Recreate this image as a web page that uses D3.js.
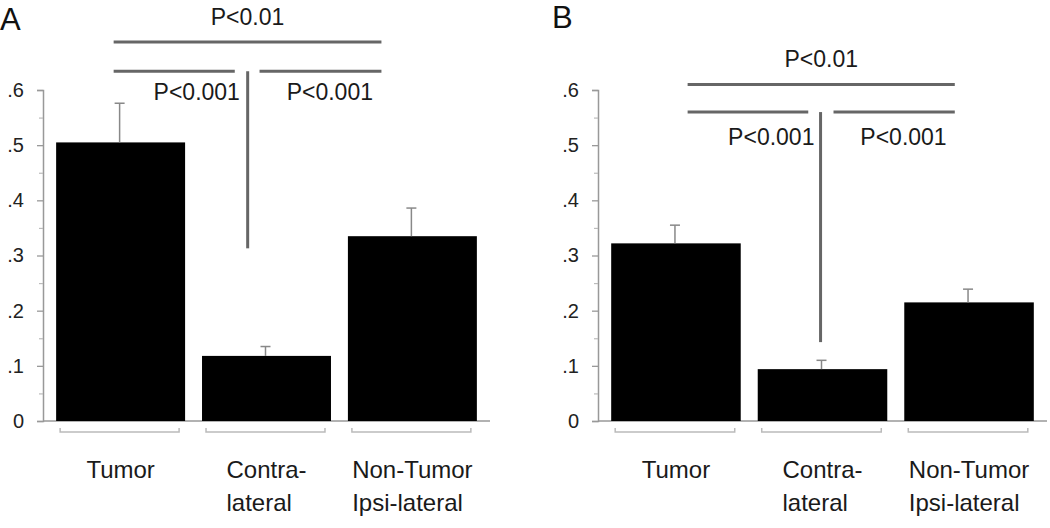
<!DOCTYPE html>
<html>
<head>
<meta charset="utf-8">
<script src="https://cdn.jsdelivr.net/npm/d3@7"></script>
<style>
  html, body { margin: 0; padding: 0; background: #fff; }
  svg { display: block; font-family: "Liberation Sans", Arial, sans-serif; }
</style>
</head>
<body>
<svg id="chart" width="1050" height="528"></svg>
<script>
// ---- data ----
const categories = ["Tumor", "Contra-lateral", "Non-Tumor Ipsi-lateral"];
const categoryLines = [["Tumor"], ["Contra-", "lateral"], ["Non-Tumor", "Ipsi-lateral"]];
const valuesA = [0.505, 0.118, 0.335];
const errorsA = [0.071, 0.017, 0.051];
const valuesB = [0.322, 0.094, 0.215];
const errorsB = [0.033, 0.016, 0.024];
const yTicks = [0, 0.1, 0.2, 0.3, 0.4, 0.5, 0.6];
const yMinorTicks = [0.05, 0.15, 0.25, 0.35, 0.45, 0.55];
const pTop = "P<0.01";
const pPair = "P<0.001";

// annotation specs: x given as (category index, fraction of bar width), y as data value
const annotA = {
  topY: 0.687, midY: 0.634, vertBottom: 0.313, topTextY: 0.717, pairTextY: 0.582,
  x0: [0, 0.446], x1: [2, 0.26], leftEnd: [1, 0.254], rightStart: [1, 0.446], vert: [1, 0.354],
  leftTextEnd: [1, 0.294], rightTextStart: [2, -0.475]
};
const annotB = {
  topY: 0.610, midY: 0.560, vertBottom: 0.143, topTextY: 0.641, pairTextY: 0.50,
  x0: [0, 0.59], x1: [2, 0.39], leftEnd: [1, 0.39], rightStart: [1, 0.585], vert: [1, 0.485],
  leftTextEnd: [1, 0.438], rightTextStart: [1, 0.792]
};

const svg = d3.select("#chart");
const y = d3.scaleLinear().domain([0, 0.6]).range([421, 90]);

function panel(letter, letterX, letterY, axisX, axisEnd, values, errors, annot) {
  const g = svg.append("g");
  const x = d3.scaleBand().domain(categories).range([axisX, axisEnd]).paddingInner(0.116).paddingOuter(0.09);
  const bw = x.bandwidth();
  const px = (spec) => x(categories[spec[0]]) + spec[1] * bw;

  // panel letter
  g.append("text").attr("x", letterX).attr("y", letterY).attr("font-size", 31).attr("fill", "#111").text(letter);

  // y axis major
  const ax = g.append("g").attr("transform", `translate(${axisX},0)`)
    .call(d3.axisLeft(y).tickValues(yTicks).tickSize(6).tickPadding(13)
      .tickFormat(d => d === 0 ? "0" : d3.format(".1f")(d).replace(/^0/, "")));
  ax.select(".domain").attr("stroke", "#999").attr("stroke-width", 1.5);
  ax.selectAll(".tick line").attr("stroke", "#999").attr("stroke-width", 1.3);
  ax.selectAll(".tick text").attr("font-size", 20).attr("fill", "#222")
    .attr("font-family", "Liberation Sans, Arial, sans-serif");
  // minor ticks
  const axm = g.append("g").attr("transform", `translate(${axisX},0)`)
    .call(d3.axisLeft(y).tickValues(yMinorTicks).tickSize(4).tickFormat(""));
  axm.select(".domain").remove();
  axm.selectAll(".tick line").attr("stroke", "#bbb").attr("stroke-width", 1.2);

  // baseline
  g.append("line").attr("x1", axisX).attr("x2", axisEnd).attr("y1", y(0)).attr("y2", y(0))
    .attr("stroke", "#999").attr("stroke-width", 1.5);

  // bars
  g.selectAll("rect.bar").data(values).join("rect").attr("class", "bar")
    .attr("x", (d, i) => x(categories[i])).attr("width", bw)
    .attr("y", d => y(d)).attr("height", d => y(0) - y(d))
    .attr("fill", "#000");

  // error bars
  const eb = g.selectAll("g.err").data(values).join("g").attr("class", "err");
  eb.append("line")
    .attr("x1", (d, i) => x(categories[i]) + bw / 2 - 1).attr("x2", (d, i) => x(categories[i]) + bw / 2 - 1)
    .attr("y1", d => y(d)).attr("y2", (d, i) => y(d + errors[i]))
    .attr("stroke", "#888").attr("stroke-width", 1.5);
  eb.append("line")
    .attr("x1", (d, i) => x(categories[i]) + bw / 2 - 6).attr("x2", (d, i) => x(categories[i]) + bw / 2 + 4)
    .attr("y1", (d, i) => y(d + errors[i])).attr("y2", (d, i) => y(d + errors[i]))
    .attr("stroke", "#888").attr("stroke-width", 1.5);

  // category brackets under bars
  const bracketY = y(0) + 11;
  categories.forEach((c, i) => {
    const x0 = x(c) + 4, x1 = x(c) + bw - 6;
    g.append("path").attr("d", `M${x0},${bracketY - 4}V${bracketY}H${x1}V${bracketY - 4}`)
      .attr("fill", "none").attr("stroke", "#bbb").attr("stroke-width", 1.5);
  });

  // category labels (left-aligned block centered under bar)
  categoryLines.forEach((lines, i) => {
    const t = g.append("text").attr("font-size", 24).attr("fill", "#1a1a1a");
    lines.forEach((ln, k) => {
      t.append("tspan").attr("y", 478 + k * 33).text(ln);
    });
    const widths = [];
    t.selectAll("tspan").each(function () { widths.push(this.getComputedTextLength()); });
    const maxW = d3.max(widths);
    const left = x(categories[i]) + bw / 2 - maxW / 2;
    t.selectAll("tspan").attr("x", left);
  });

  // significance annotations
  const lineStyle = sel => sel.attr("stroke", "#666").attr("stroke-width", 3);
  g.append("line").attr("x1", px(annot.x0)).attr("x2", px(annot.x1))
    .attr("y1", y(annot.topY)).attr("y2", y(annot.topY)).call(lineStyle);
  g.append("line").attr("x1", px(annot.x0)).attr("x2", px(annot.leftEnd))
    .attr("y1", y(annot.midY)).attr("y2", y(annot.midY)).call(lineStyle);
  g.append("line").attr("x1", px(annot.rightStart)).attr("x2", px(annot.x1))
    .attr("y1", y(annot.midY)).attr("y2", y(annot.midY)).call(lineStyle);
  g.append("line").attr("x1", px(annot.vert)).attr("x2", px(annot.vert))
    .attr("y1", y(annot.midY)).attr("y2", y(annot.vertBottom)).call(lineStyle);

  g.append("text").attr("x", (px(annot.x0) + px(annot.x1)) / 2).attr("y", y(annot.topTextY))
    .attr("text-anchor", "middle").attr("font-size", 23).attr("fill", "#1a1a1a").text(pTop);
  g.append("text").attr("x", px(annot.leftTextEnd)).attr("y", y(annot.pairTextY))
    .attr("text-anchor", "end").attr("font-size", 23).attr("fill", "#1a1a1a").text(pPair);
  g.append("text").attr("x", px(annot.rightTextStart)).attr("y", y(annot.pairTextY))
    .attr("text-anchor", "start").attr("font-size", 23).attr("fill", "#1a1a1a").text(pPair);
}

panel("A", 0, 30, 43, 490, valuesA, errorsA, annotA);
panel("B", 552, 28, 598, 1047, valuesB, errorsB, annotB);
</script>
</body>
</html>
